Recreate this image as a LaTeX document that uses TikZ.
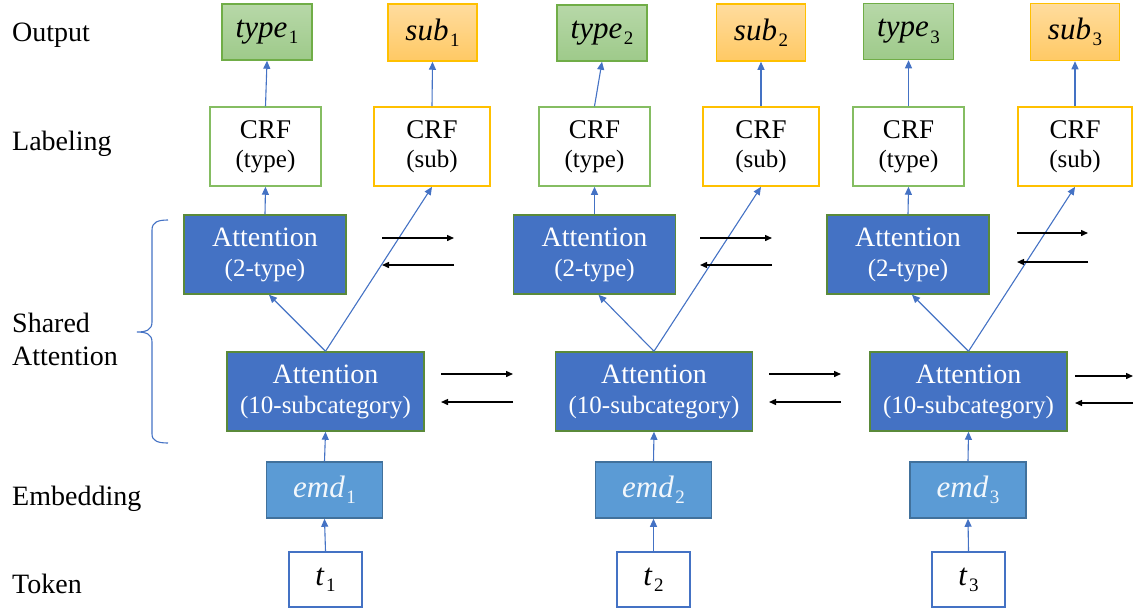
\documentclass[tikz,border=0pt]{standalone}
\usepackage{fontspec}
\setmainfont{Liberation Serif}
\newfontfamily\tnr{Liberation Serif}
\usetikzlibrary{arrows.meta}

\definecolor{linkblue}{HTML}{4472C4}
\definecolor{attfill}{HTML}{4472C4}
\definecolor{attedge}{HTML}{5A8A3A}
\definecolor{emdfill}{HTML}{5B9BD5}
\definecolor{emdedge}{HTML}{41719C}
\definecolor{grnedge}{HTML}{70AD47}
\definecolor{grnlite}{HTML}{85BD62}
\definecolor{grntop}{HTML}{B7D8A8}
\definecolor{grnbot}{HTML}{9ECA8A}
\definecolor{yeledge}{HTML}{FFC000}
\definecolor{yeltop}{HTML}{FFDC9E}
\definecolor{yelbot}{HTML}{FFC964}

\tikzset{
  every node/.style={font=\tnr},
  box/.style={draw, line width=1.5pt, inner sep=0pt, align=center},
  symfont/.style={font=\tnr\fontsize{31}{32}\selectfont},
  outtype/.style={box, draw=grnedge, top color=grntop, bottom color=grnbot,
    minimum width=90pt, minimum height=56pt, symfont},
  outsub/.style={box, draw=yeledge, top color=yeltop, bottom color=yelbot,
    minimum width=89pt, minimum height=57pt, symfont},
  crftype/.style={box, draw=grnlite, fill=white,
    minimum width=111pt, minimum height=79pt, font=\tnr\fontsize{27}{29}\selectfont},
  crfsub/.style={box, draw=yeledge, line width=1.7pt, fill=white,
    minimum width=116pt, minimum height=79pt, font=\tnr\fontsize{27}{29}\selectfont},
  attbox/.style={box, draw=attedge, fill=attfill, text=white,
    minimum height=79pt, font=\tnr\fontsize{28}{30}\selectfont},
  emdbox/.style={box, draw=emdedge, fill=emdfill, text=white!92!emdfill,
    minimum width=116pt, minimum height=56pt, symfont},
  tokbox/.style={box, draw=linkblue, fill=white,
    minimum width=73pt, minimum height=55pt, symfont},
  rowlabel/.style={anchor=base west, inner sep=0pt, align=left,
    font=\tnr\fontsize{28}{33}\selectfont},
  link/.style={draw=linkblue, line width=1.1pt,
    -{Triangle[length=8pt,width=7pt]}},
  flow/.style={draw=black, line width=1.4pt,
    -{Triangle[length=7pt,width=6pt]}}
}

% italic symbol with an upright index, e.g. type_1
\newcommand{\idx}[2]{\textit{#1}\kern1.5pt\raisebox{-0.2em}{\fontsize{19}{20}\selectfont #2}}
\newcommand{\crftext}[1]{CRF\\{\fontsize{25}{29}\selectfont (#1)}}
\newcommand{\atttext}[1]{Attention\\{\fontsize{25}{30}\selectfont (#1)}}

\begin{document}
\begin{tikzpicture}[x=1pt,y=-1pt]
\useasboundingbox (0,0) rectangle (1134,611);

% row labels
\node[rowlabel] (lout) at (12,41) {Output};
\node[rowlabel] (llab) at (12,150) {Labeling};
\node[rowlabel] (lsha) at (12,365) {Shared\\Attention};
\node[rowlabel] (lemb) at (12,505) {Embedding};
\node[rowlabel] (ltok) at (12,593) {Token};

% brace grouping the shared attention layers
\draw[linkblue, line width=1.1pt]
  (168,220) .. controls (158,220) and (152,222) .. (152,230) -- (152,322)
  .. controls (152,330) and (146,332) .. (137,332)
  .. controls (146,332) and (152,334) .. (152,342) -- (152,434)
  .. controls (152,441) and (158,443) .. (168,443);

% outputs
\node[outtype] (out1) at (267,32) {\idx{type}{1}};
\node[outsub]  (sub1) at (432.5,32.5) {\idx{sub}{1}};
\node[outtype] (out2) at (602,33) {\idx{type}{2}};
\node[outsub]  (sub2) at (761,32.5) {\idx{sub}{2}};
\node[outtype] (out3) at (908.5,31.5) {\idx{type}{3}};
\node[outsub]  (sub3) at (1075,32) {\idx{sub}{3}};

% CRF labelling layers
\node[crftype] (crft1) at (265.5,146.5) {\crftext{type}};
\node[crfsub]  (crfs1) at (432,146.5) {\crftext{sub}};
\node[crftype] (crft2) at (594.5,146.5) {\crftext{type}};
\node[crfsub]  (crfs2) at (761,146.5) {\crftext{sub}};
\node[crftype] (crft3) at (908.5,146.5) {\crftext{type}};
\node[crfsub, minimum width=114pt] (crfs3) at (1075,146.5) {\crftext{sub}};

% type attention
\node[attbox, minimum width=162pt] (atty1) at (265,254.5) {\atttext{2-type}};
\node[attbox, minimum width=162pt] (atty2) at (594.5,254.5) {\atttext{2-type}};
\node[attbox, minimum width=162pt] (atty3) at (908,254.5) {\atttext{2-type}};

% subcategory attention
\node[attbox, minimum width=197pt] (atts1) at (325.5,391.5) {\atttext{10-subcategory}};
\node[attbox, minimum width=197pt] (atts2) at (654,391.5) {\atttext{10-subcategory}};
\node[attbox, minimum width=197pt] (atts3) at (968.5,391.5) {\atttext{10-subcategory}};

% embeddings
\node[emdbox] (emd1) at (324.5,490) {\idx{emd}{1}};
\node[emdbox] (emd2) at (653.5,490) {\idx{emd}{2}};
\node[emdbox] (emd3) at (968,490) {\idx{emd}{3}};

% tokens
\node[tokbox] (tok1) at (325.5,579.5) {\idx{t}{1}};
\node[tokbox] (tok2) at (653.5,579.5) {\idx{t}{2}};
\node[tokbox] (tok3) at (968.5,579.5) {\idx{t}{3}};

% upward links
\foreach \i in {1,2,3}{
  \draw[link] (tok\i.north) -- (emd\i.south);
  \draw[link] (emd\i.north) -- (atts\i.south);
  \draw[link] (atts\i.north) -- ([xshift=4pt]atty\i.south);
  \draw[link] (atts\i.north) -- (crfs\i.south);
  \draw[link] (atty\i.north) -- (crft\i.south);
  \draw[link] (crft\i.north) -- (out\i.south);
  \draw[link] (crfs\i.north) -- (sub\i.south);
}

% recurrent flow between time steps, type attention row
\coordinate (ta1) at (382,238);  \coordinate (tb1) at (454,238);
\coordinate (tc1) at (454,265);  \coordinate (td1) at (382,265);
\coordinate (ta2) at (700,238);  \coordinate (tb2) at (772,238);
\coordinate (tc2) at (772,265);  \coordinate (td2) at (700,265);
\coordinate (ta3) at (1017,233); \coordinate (tb3) at (1088,233);
\coordinate (tc3) at (1088,262); \coordinate (td3) at (1017,262);

% recurrent flow between time steps, subcategory attention row
\coordinate (sa1) at (441,374);  \coordinate (sb1) at (513,374);
\coordinate (sc1) at (513,402);  \coordinate (sd1) at (441,402);
\coordinate (sa2) at (769,374);  \coordinate (sb2) at (841,374);
\coordinate (sc2) at (841,402);  \coordinate (sd2) at (769,402);
\coordinate (sa3) at (1075,376); \coordinate (sb3) at (1133,376);
\coordinate (sc3) at (1133,403); \coordinate (sd3) at (1075,403);

\foreach \i in {1,2,3}{
  \draw[flow] (ta\i) -- (tb\i);
  \draw[flow] (tc\i) -- (td\i);
  \draw[flow] (sa\i) -- (sb\i);
  \draw[flow] (sc\i) -- (sd\i);
}
\end{tikzpicture}
\end{document}
